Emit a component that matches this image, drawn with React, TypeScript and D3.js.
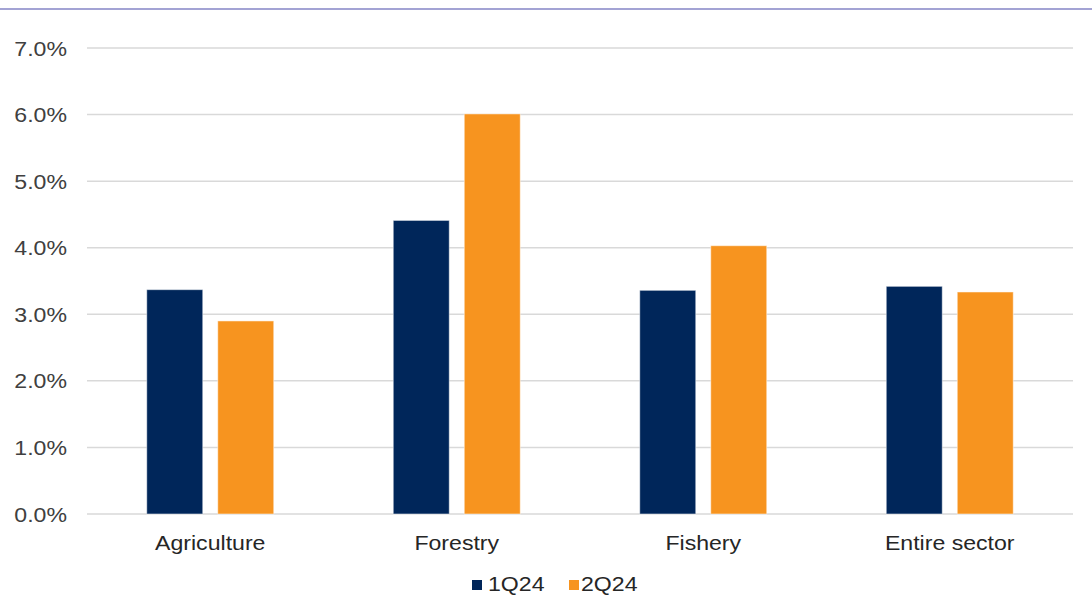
import React from "react";
import * as d3 from "d3";

const categories = ["Agriculture", "Forestry", "Fishery", "Entire sector"];
const series1Q24 = [3.37, 4.41, 3.36, 3.42];
const series2Q24 = [2.9, 6.01, 4.03, 3.335];
const seriesNames = ["1Q24", "2Q24"];
const colors = ["#00265A", "#F7941F"];
const yTicks = [0, 1, 2, 3, 4, 5, 6, 7];

const W = 1092;
const H = 595;
const left = 87;
const right = 1073;
const top = 48;
const bottom = 514;
const font = "'Liberation Sans', Arial, sans-serif";
const SX = 1.1;

function T(props: { x: number; y: number; anchor?: string; children: React.ReactNode; dy?: string; fill?: string }) {
  return (
    <text
      transform={`translate(${props.x},${props.y}) scale(${SX},1)`}
      dy={props.dy}
      textAnchor={props.anchor || "start"}
      fontFamily={font}
      fontSize={21}
      fill={props.fill || "#262626"}
    >
      {props.children}
    </text>
  );
}

export default function App() {
  const x = d3.scaleBand<string>().domain(categories).range([left, right]).paddingInner(0).paddingOuter(0);
  const y = d3.scaleLinear().domain([0, 7]).range([bottom, top]);
  const barW = 56;
  const gap = 15;
  const all = [series1Q24, series2Q24];
  return (
    <svg width={W} height={H} style={{ position: "absolute", left: 0, top: 0, background: "#fff" }}>
      <rect x={0} y={8} width={W} height={2} fill="#A3A3D4" />
      {yTicks.map((t) => (
        <g key={t}>
          <line x1={left} x2={right} y1={y(t)} y2={y(t)} stroke="#D9D9D9" strokeWidth={1.5} />
          <T x={67} y={y(t)} dy="0.36em" anchor="end" fill="#404040">
            {d3.format(".1f")(t) + "%"}
          </T>
        </g>
      ))}
      {categories.map((c, i) => {
        const cx = (x(c) as number) + x.bandwidth() / 2;
        return (
          <g key={c}>
            {all.map((s, k) => {
              const bx = k === 0 ? cx - gap / 2 - barW : cx + gap / 2;
              return (
                <rect
                  key={k}
                  x={bx}
                  y={y(s[i])}
                  width={barW}
                  height={y(0) - y(s[i])}
                  fill={colors[k]}
                  stroke="#ffffff"
                  strokeOpacity={0.5}
                  strokeWidth={1}
                />
              );
            })}
            <T x={cx} y={550} anchor="middle">
              {c}
            </T>
          </g>
        );
      })}
      <g>
        <rect x={472} y={580} width={10} height={10} fill={colors[0]} />
        <T x={488} y={591}>{seriesNames[0]}</T>
        <rect x={569} y={580} width={10} height={10} fill={colors[1]} />
        <T x={581} y={591}>{seriesNames[1]}</T>
      </g>
    </svg>
  );
}
